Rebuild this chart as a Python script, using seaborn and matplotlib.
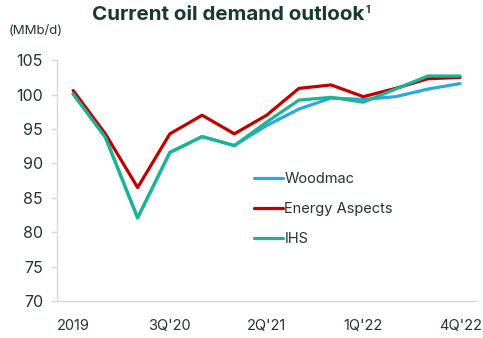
import matplotlib
matplotlib.use("Agg")
import matplotlib.pyplot as plt
import seaborn as sns
import pandas as pd
import numpy as np

quarters = ["2019", "1Q'20", "2Q'20", "3Q'20", "4Q'20", "1Q'21", "2Q'21",
            "3Q'21", "4Q'21", "1Q'22", "2Q'22", "3Q'22", "4Q'22"]
woodmac = [100.1, 93.8, 82.1, 91.6, 93.9, 92.6, 95.5, 97.9, 99.5, 99.3, 99.7, 100.8, 101.6]
energy_aspects = [100.6, 94.3, 86.5, 94.3, 97.0, 94.3, 97.0, 100.9, 101.4, 99.7, 100.9, 102.3, 102.5]
ihs = [100.1, 93.8, 82.1, 91.6, 93.9, 92.6, 96.0, 99.2, 99.6, 98.9, 100.8, 102.7, 102.7]
series_names = ["Woodmac", "Energy Aspects", "IHS"]
colors = ["#2AA8E6", "#C00000", "#1DB591"]
shown_labels = ["2019", "3Q'20", "2Q'21", "1Q'22", "4Q'22"]

df = pd.DataFrame({
    "idx": list(range(len(quarters))) * 3,
    "value": woodmac + energy_aspects + ihs,
    "source": [s for s, vals in zip(series_names, [woodmac, energy_aspects, ihs]) for _ in vals],
})

sns.set_theme(style="white")
plt.rcParams["font.family"] = ["Inter", "DejaVu Sans"]
text_col = "#24352F"
grid_col = "#D9D9D9"

fig = plt.figure(figsize=(4.83, 3.38), dpi=100)
ax = fig.add_axes([0.118, 0.109, 0.868, 0.713])

sns.lineplot(data=df, x="idx", y="value", hue="source", hue_order=series_names,
             palette=colors, linewidth=2.3, ax=ax, legend=False)

ax.set_xlim(-0.5, len(quarters) - 0.5)
ax.set_ylim(70, 105)
ax.set_yticks(np.arange(70, 106, 5))
ax.set_yticklabels([str(v) for v in range(70, 106, 5)])

label_pos = [quarters.index(q) for q in shown_labels]
ax.set_xticks(label_pos)
ax.set_xticklabels(shown_labels)
ax.set_xticks(np.arange(-0.5, len(quarters), 2), minor=True)
ax.tick_params(axis="x", which="major", length=0, pad=13, labelsize=10.5, labelcolor=text_col)
ax.tick_params(axis="x", which="minor", length=4, width=1, color=grid_col, direction="out")
ax.tick_params(axis="y", which="major", length=4, width=1, color=grid_col, pad=6,
               labelsize=11.5, labelcolor=text_col, left=True)
ax.set_xlabel("")
ax.set_ylabel("")

for side in ["top", "right"]:
    ax.spines[side].set_visible(False)
for side in ["left", "bottom"]:
    ax.spines[side].set_color(grid_col)
    ax.spines[side].set_linewidth(1)

handles = [plt.Line2D([], [], color=c, linewidth=2.3) for c in colors]
fig.legend(handles, series_names, loc="upper left", bbox_to_anchor=(0.498, 0.53),
           frameon=False, fontsize=10.5, handlelength=2.0, handletextpad=0.1,
           labelspacing=1.1, labelcolor=text_col)

# Title with a small footnote marker placed right after it
title = fig.text(0.472, 0.955, "Current oil demand outlook", ha="center", va="center",
                 fontsize=14.8, fontweight="bold", color="#173A2C")
renderer = fig.canvas.get_renderer()
bb = title.get_window_extent(renderer).transformed(fig.transFigure.inverted())
fig.text(bb.x1 + 0.002, bb.y1 + 0.004, "1", ha="left", va="top",
         fontsize=7.5, fontweight="bold", color="#173A2C")

fig.text(0.018, 0.908, "(MMb/d)", ha="left", va="center", fontsize=9.5, color=text_col)

fig.savefig("out.png", dpi=100)
